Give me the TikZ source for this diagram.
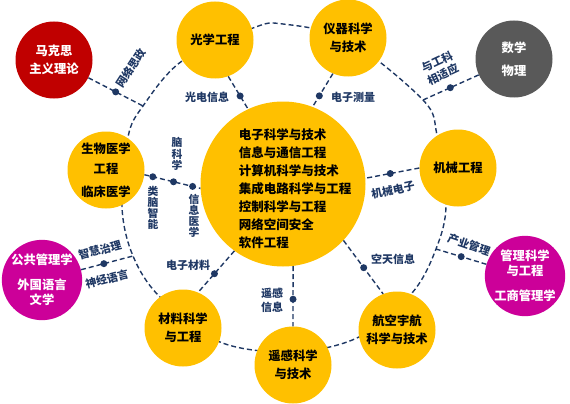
\documentclass[tikz,border=0pt]{standalone}
\usepackage{fontspec}
\setmainfont{Noto Sans CJK SC}
\usetikzlibrary{backgrounds}
\definecolor{gold}{RGB}{255,192,0}
\definecolor{navy}{RGB}{31,56,100}
\definecolor{darkred}{RGB}{192,0,0}
\definecolor{slate}{RGB}{89,89,89}
\definecolor{mag}{RGB}{204,0,153}
\begin{document}
\begin{tikzpicture}[x=1pt,y=-1pt,
  sat/.style={circle, fill=gold, minimum size=77pt, inner sep=0pt, align=center,
    font=\fontsize{12.3}{18}\selectfont\bfseries},
  ext/.style={sat, text=white},
  link/.style={navy, line width=1.4pt, dash pattern=on 5pt off 3pt},
  dot/.style={circle, fill=navy, inner sep=0pt, minimum size=7pt},
  lab/.style={text=navy, font=\fontsize{11}{14}\selectfont\bfseries, inner sep=0pt, align=center},
  vlab/.style={lab, font=\fontsize{10.8}{11.2}\selectfont\bfseries}
]
\useasboundingbox (0,0) rectangle (570,404);

% core
\node[circle, fill=gold, minimum size=165pt, inner sep=0pt] (core) at (283,184) {};
\node[align=left, inner sep=0pt, font=\fontsize{12.5}{18}\selectfont\bfseries] (coretext) at (295,189)
  {电子科学与技术\\信息与通信工程\\计算机科学与技术\\集成电路科学与工程\\控制科学与工程\\网络空间安全\\软件工程};

% satellites
\node[sat] (opt) at (215,40) {光学工程};
\node[sat] (ins) at (348,38) {仪器科学\\与技术};
\node[sat] (mech) at (458,168) {机械工程};
\node[sat] (aero) at (397,330) {航空宇航\\科学与技术};
\node[sat] (rs) at (293,365) {遥感科学\\与技术};
\node[sat] (mat) at (183,328) {材料科学\\与工程};
\node[sat] (bio) at (106,170) {生物医学\\[2pt]工程\\[5pt]临床医学};

\node[ext, fill=darkred] (mks) at (54,60) {马克思\\主义理论};
\node[ext, fill=slate] (math) at (514,59) {数学\\[5pt]物理};
\node[ext, fill=mag, font=\fontsize{12.3}{15}\selectfont\bfseries] (pub) at (42,280) {公共管理学\\[10pt]外国语言\\文学};
\node[ext, fill=mag, font=\fontsize{12.3}{15}\selectfont\bfseries] (mgmt) at (525,276) {管理科学\\与工程\\[10pt]工商管理学};

% ring junctions
\coordinate (jU) at (143,106);
\coordinate (jD) at (423,100);
\coordinate (jQ) at (133,256);
\coordinate (jG) at (436,249);

\begin{scope}[on background layer]
  \draw[link] plot[smooth cycle, tension=0.55] coordinates {
    (283,24) (348,40) (jD) (437,135) (446,205) (jG) (412,293) (359,337)
    (293,352) (220,342) (160,297) (jQ) (122,207) (128,137) (jU) (182,61) (253,28)};
\end{scope}

% spokes
\draw[link] (opt.-70) -- node[dot,pos=0.6]{} (core.115);
\draw[link] (ins.247) -- node[dot,pos=0.67]{} (core.69);
\draw[link] (mech.180) -- node[dot,pos=0.54]{} (core.4);
\draw[link] (core.-43) -- node[dot,pos=0.51]{} (aero.111);
\draw[link] (core.-83) -- node[dot,pos=0.55]{} (rs.90);
\draw[link] (core.234) -- node[dot,pos=0.55]{} (mat.67);
\draw[link] (bio.-7) -- node[dot,pos=0.15]{} node[dot,pos=0.52]{} node[dot,pos=0.86]{} (core.183);

% external links
\draw[link] (mks) -- node[dot,pos=0.5]{} (jU);
\draw[link] (math) -- node[dot,pos=0.51]{} (jD);
\draw[link] (pub) -- node[dot,pos=0.44]{} (jQ);
\draw[link] (mgmt) -- node[dot,pos=0.5]{} (jG);

% labels
\node[lab, rotate=57] (l1) at (131,68) {网络思政};
\node[lab, rotate=25] (l2) at (440,68) {与工科\\相适应};
\node[lab] (l3) at (207,97) {光电信息};
\node[lab] (l4) at (353,97) {电子测量};
\node[lab, rotate=12] (l5) at (393,190) {机械电子};
\node[lab] (l6) at (393,259) {空天信息};
\node[lab] (l7) at (272,300) {遥感\\信息};
\node[lab] (l8) at (188,265) {电子材料};
\node[lab, rotate=15] (l9) at (100,250) {智慧治理};
\node[lab, rotate=15] (l10) at (107,279) {神经语言};
\node[lab, rotate=-19] (l11) at (469,245) {产业管理};
\node[vlab] (l12) at (177,154) {脑\\科\\学};
\node[vlab] (l13) at (153,208) {类\\脑\\智\\能};
\node[vlab] (l14) at (194,216) {信\\息\\医\\学};
\end{tikzpicture}
\end{document}
